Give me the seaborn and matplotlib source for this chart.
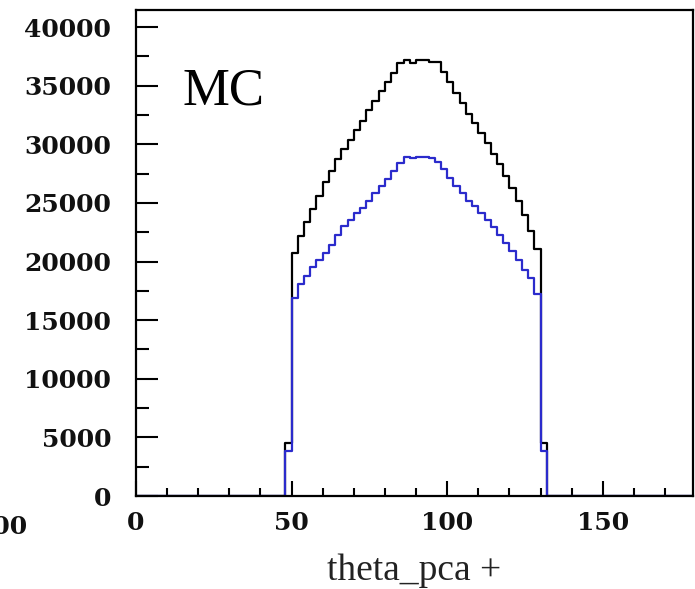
import numpy as np
import pandas as pd
import matplotlib
matplotlib.use("Agg")
import matplotlib.pyplot as plt
import seaborn as sns
from matplotlib.ticker import MultipleLocator

# histogram: 2-unit bins from 0 to 180, non-empty between 48 and 132
bin_edges = np.arange(0, 182, 2)
filled_lo = np.arange(48, 132, 2)

all_counts = [4500, 20700, 22200, 23400, 24500, 25600, 26800, 27700, 28700, 29600,
              30400, 31200, 32000, 32900, 33700, 34500, 35300, 36100, 36900, 37200,
              36900, 37200, 37200, 37000, 37000, 36200, 35300, 34400, 33500, 32600,
              31800, 31000, 30100, 29200, 28300, 27300, 26300, 25200, 24000, 22600,
              21100, 4500]
sel_counts = [3800, 16900, 18100, 18800, 19500, 20100, 20700, 21400, 22300, 23000,
              23500, 24100, 24600, 25200, 25800, 26400, 27000, 27700, 28400, 28900,
              28800, 28900, 28900, 28800, 28500, 27900, 27100, 26400, 25800, 25200,
              24700, 24100, 23500, 22900, 22300, 21600, 20900, 20100, 19300, 18600,
              17200, 3800]

centers = bin_edges[:-1] + 1
w_all = np.zeros(len(centers))
w_sel = np.zeros(len(centers))
idx = np.searchsorted(bin_edges, filled_lo)
w_all[idx] = all_counts
w_sel[idx] = sel_counts
df = pd.DataFrame({"theta": centers, "w_all": w_all, "w_sel": w_sel})

sns.set_style("white")
plt.rcParams['font.family'] = ['DejaVu Serif']
plt.rcParams['text.color'] = 'black'

fig = plt.figure(figsize=(6.95, 5.89), dpi=100)
ax = fig.add_axes([136 / 695, 93 / 589, 557 / 695, 486 / 589])

sns.histplot(data=df, x="theta", weights="w_all", bins=bin_edges.tolist(),
             element="step", fill=False, color="black", linewidth=1.6, ax=ax)
sns.histplot(data=df, x="theta", weights="w_sel", bins=bin_edges.tolist(),
             element="step", fill=False, color="#2b2bcc", linewidth=1.6, ax=ax)

ax.set_xlim(0, 179)
ax.set_ylim(0, 41450)
ax.set_ylabel("")
ax.set_xlabel("theta_pca +", family="Liberation Serif", fontsize=27, labelpad=13,
              color="#222222")

ax.xaxis.set_major_locator(MultipleLocator(50))
ax.xaxis.set_minor_locator(MultipleLocator(10))
ax.yaxis.set_major_locator(MultipleLocator(5000))
ax.yaxis.set_minor_locator(MultipleLocator(2500))
ax.tick_params(which="both", bottom=True, left=True, top=False, right=False,
               direction="in", color="black", labelcolor="#111111")
ax.tick_params(axis="y", which="major", length=16, width=1.5, pad=18)
ax.tick_params(axis="y", which="minor", length=9, width=1.5)
ax.tick_params(axis="x", which="major", length=11, width=1.5, pad=11)
ax.tick_params(axis="x", which="minor", length=6, width=1.5)
ax.tick_params(labelsize=18)
for lab in ax.get_xticklabels() + ax.get_yticklabels():
    lab.set_fontweight("bold")

for s in ax.spines.values():
    s.set_linewidth(1.6)
    s.set_color("black")

ax.text(0.083, 0.806, "MC", transform=ax.transAxes, family="Liberation Serif",
        fontsize=38, color="black")

# cut-off tick label of the neighbouring panel
fig.text(27 / 695, 1 - 527 / 589, "200", ha="right", va="center",
         fontsize=18, fontweight="bold", color="#111111")

fig.savefig("out.png", dpi=100)
